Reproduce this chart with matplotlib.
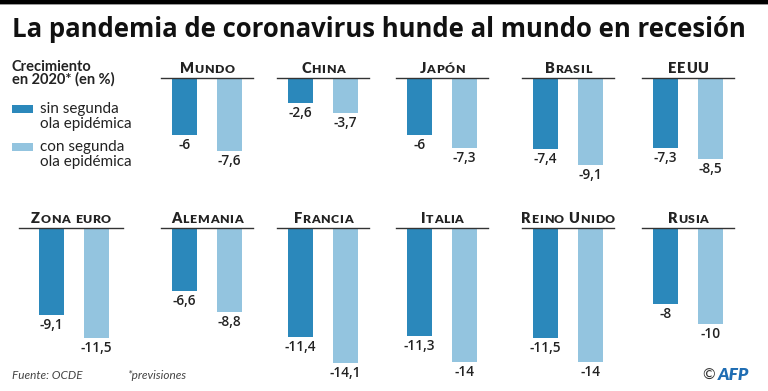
import matplotlib
matplotlib.use("Agg")
import matplotlib.pyplot as plt
from matplotlib.patches import Rectangle
from matplotlib.transforms import IdentityTransform

plt.rcParams['font.family'] = ['Lato', 'DejaVu Sans']

# ----- Data -----
title = "La pandemia de coronavirus hunde al mundo en recesión"
countries = ["Mundo", "China", "Japón", "Brasil", "EEUU",
             "Zona euro", "Alemania", "Francia", "Italia", "Reino Unido", "Rusia"]
sin_segunda = [-6, -2.6, -6, -7.4, -7.3, -9.1, -6.6, -11.4, -11.3, -11.5, -8]
con_segunda = [-7.6, -3.7, -7.3, -9.1, -8.5, -11.5, -8.8, -14.1, -14, -14, -10]
legend_title = ["Crecimiento", "en 2020* (en %)"]
series_labels = [["sin segunda", "ola epidémica"], ["con segunda", "ola epidémica"]]
source = "Fuente: OCDE"
note = "*previsiones"

dark = "#2b88bb"
light = "#93c4df"
ink = "#222222"
sans = ['Open Sans', 'DejaVu Sans']

# ----- Layout (pixels) -----
W, H = 768, 391
col_left = [19, 161, 277, 396, 522, 642]
col_width = [104, 92, 92, 92, 92, 92]
col_pad = [32.5, 23.5, 23.5, 23.5, 23.5, 23.5]
row_base = [78, 228]
slots = [(1, 0), (2, 0), (3, 0), (4, 0), (5, 0),
         (0, 1), (1, 1), (2, 1), (3, 1), (4, 1), (5, 1)]
unit_x = 45.0      # px between the two bars
unit_y = 9.55      # px per percentage point
ymin = -15.5

fig = plt.figure(figsize=(W / 100, H / 100), dpi=100)
renderer = fig.canvas.get_renderer()


def px(x, y):
    return x / W, 1 - y / H


def small_caps(cx, y, word, big=10.5, small=8.8, track=0.6):
    chars = []
    x = 0
    for ch in word:
        if ch == ' ':
            x += 4
            continue
        size = big if ch.isupper() else small
        t = fig.text(x, H - y, ch.upper(), fontsize=size, fontweight='heavy',
                     color=ink, transform=IdentityTransform(), va='baseline')
        w = t.get_window_extent(renderer).width
        chars.append(t)
        x += w + track
    x -= track
    shift = cx - x / 2
    for t in chars:
        t.set_x(t.get_position()[0] + shift)


# top rule
fig.add_artist(Rectangle((0, 1 - 4 / H), 1, 4 / H, transform=fig.transFigure,
                         color="black", lw=0))
fig.add_artist(Rectangle((0, 1 - 5 / H), 1, 1 / H, transform=fig.transFigure,
                         color="#999999", lw=0))

fig.text(*px(12, 37), title, fontsize=18.5, fontweight='bold', color="#111111",
         va='baseline', family=sans)

# ----- Panels -----
for i, name in enumerate(countries):
    col, row = slots[i]
    left, width, pad = col_left[col], col_width[col], col_pad[col]
    base = row_base[row]
    hpx = -ymin * unit_y
    ax = fig.add_axes([left / W, 1 - (base + hpx) / H, width / W, hpx / H])
    ax.set_xlim(-pad / unit_x, (width - pad) / unit_x)
    ax.set_ylim(ymin, 0)
    ax.axis('off')
    vals = [sin_segunda[i], con_segunda[i]]
    ax.bar([0, 1], vals, width=25 / unit_x, color=[dark, light])
    ax.axhline(0, color="#333333", lw=1, clip_on=False)
    for j, v in enumerate(vals):
        ax.annotate(f"{v:g}".replace('.', ','), (j, v), xytext=(0, -3),
                    textcoords='offset pixels', ha='center', va='top',
                    fontsize=9.8, fontweight='semibold', color=ink, family=sans)
    small_caps(left + width / 2, base - 5, name)

# ----- Legend -----
for k, line in enumerate(legend_title):
    fig.text(*px(12, 71 + 13 * k), line, fontsize=10.5, fontweight='bold',
             color=ink, va='baseline')
for k, (lines, c) in enumerate(zip(series_labels, [dark, light])):
    top = 105 + 38 * k
    fig.add_artist(Rectangle(px(12, top + 8), 21 / W, 8 / H,
                             transform=fig.transFigure, color=c, lw=0))
    for m, line in enumerate(lines):
        fig.text(*px(40, top + 8 + 15 * m), line, fontsize=11, color=ink,
                 va='baseline')

# ----- Footer -----
fig.text(*px(12, 379), source, fontsize=8.5, style='italic', color="#444444",
         va='baseline')
fig.text(*px(127, 379), note, fontsize=8.5, style='italic', color="#444444",
         va='baseline')
fig.text(*px(702, 380), "©", fontsize=11, color="#333333", va='baseline')
fig.text(*px(718, 380), "AFP", fontsize=12.5, fontweight='heavy', style='italic',
         color="#1f6db3", va='baseline')

fig.savefig("out.png", dpi=100)
